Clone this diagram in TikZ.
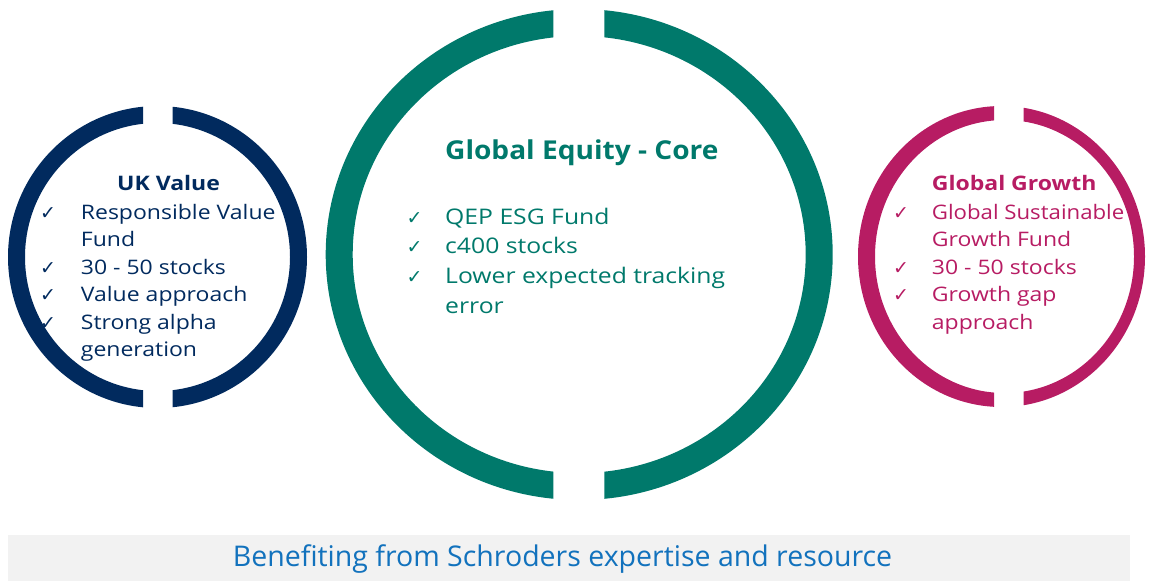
\documentclass[tikz,border=0pt]{standalone}
\usepackage{fontspec}
\setmainfont{Open Sans}
\newfontfamily\wideos[FakeStretch=1.15]{Open Sans}
\newfontfamily\midos[FakeStretch=1.08]{Open Sans}
\newfontfamily\narrowos[FakeStretch=1.11]{Open Sans}
\newfontfamily\symfont{DejaVu Sans}
\definecolor{navy}{HTML}{012A5E}
\definecolor{teal}{HTML}{00796B}
\definecolor{berry}{HTML}{B71C63}
\definecolor{linkblue}{HTML}{1272BD}
\definecolor{barfill}{HTML}{F2F2F2}

% ring with a vertical gap: centre x, centre y, x radius, y radius, thickness,
% gap left, gap right, colour, shift of the inner edge to the right
\newcommand\gapring[9]{%
  \foreach \cl/\cr in {-20/#6, #7/1200}{%
    \begin{scope}
      \clip (\cl,-20) rectangle (\cr,620);
      \fill[#8, even odd rule] (#1,#2) ellipse [x radius=#3*1pt, y radius=#4*1pt]
        (#1+#9,#2) ellipse [x radius=(#3-#5)*1pt, y radius=(#4-#5)*1pt];
    \end{scope}}}

\tikzset{
  txt/.style={anchor=base west, inner sep=0pt, font=\wideos\fontsize{20}{24}\selectfont},
  ttl/.style={anchor=base west, inner sep=0pt, font=\wideos\fontsize{20}{24}\selectfont\bfseries},
  tick/.style={anchor=base west, inner sep=0pt, font=\symfont\fontsize{19}{22}\selectfont},
  ctxt/.style={txt, font=\wideos\fontsize{21.5}{26}\selectfont},
  cttl/.style={ttl, font=\midos\fontsize{26}{30}\selectfont\bfseries},
}

\begin{document}
\begin{tikzpicture}[x=1pt,y=-1pt]
\useasboundingbox (0,0) rectangle (1154,581);

% rings
\gapring{157.5}{257}{149.5}{151}{17}{143}{172.5}{navy}{0}
\gapring{579.2}{254.5}{253.5}{245.5}{27}{553.3}{604.3}{teal}{0}
\gapring{1001.5}{256.5}{143.5}{150.5}{14}{994}{1023.5}{berry}{3}

% UK Value
\node[ttl, text=navy] (ukt) at (117,190.7) {UK Value};
\node[tick, text=navy] (ukc1) at (40,219.3) {✓};
\node[txt, text=navy] (uk1) at (80.7,219.3) {Responsible Value};
\node[txt, text=navy] (uk1b) at (80.7,246.7) {Fund};
\node[tick, text=navy] (ukc2) at (40,274.3) {✓};
\node[txt, text=navy] (uk2) at (80.7,274.3) {30 - 50 stocks};
\node[tick, text=navy] (ukc3) at (40,301.7) {✓};
\node[txt, text=navy] (uk3) at (80.7,301.7) {Value approach};
\node[tick, text=navy] (ukc4) at (40,329.3) {✓};
\node[txt, text=navy] (uk4) at (80.7,329.3) {Strong alpha};
\node[txt, text=navy] (uk4b) at (80.7,356.7) {generation};

% Global Equity - Core
\node[cttl, text=teal] (gct) at (445,159.3) {Global Equity - Core};
\node[tick, text=teal] (gcc1) at (406.5,224) {✓};
\node[ctxt, text=teal] (gc1) at (445,224) {QEP ESG Fund};
\node[tick, text=teal] (gcc2) at (406.5,253.3) {✓};
\node[ctxt, text=teal] (gc2) at (445,253.3) {c400 stocks};
\node[tick, text=teal] (gcc3) at (406.5,283.3) {✓};
\node[ctxt, text=teal] (gc3) at (445,283.3) {Lower expected tracking};
\node[ctxt, text=teal] (gc3b) at (445,313.3) {error};

% Global Growth
\node[ttl, text=berry] (ggt) at (931.7,190.7) {Global Growth};
\node[tick, text=berry] (ggc1) at (893,219) {✓};
\node[txt, text=berry, font=\narrowos\fontsize{20}{24}\selectfont] (gg1) at (931.7,219) {Global Sustainable};
\node[txt, text=berry] (gg1b) at (931.7,246.7) {Growth Fund};
\node[tick, text=berry] (ggc2) at (893,274) {✓};
\node[txt, text=berry] (gg2) at (931.7,274) {30 - 50 stocks};
\node[tick, text=berry] (ggc3) at (893,301.5) {✓};
\node[txt, text=berry] (gg3) at (931.7,301.5) {Growth gap};
\node[txt, text=berry] (gg3b) at (931.7,329) {approach};

% footer bar
\fill[barfill] (8,535) rectangle (1130,581);
\node[anchor=base, inner sep=0pt, text=linkblue, font=\fontsize{28.5}{32}\selectfont] (foot) at (562.5,566.7) {Benefiting from Schroders expertise and resource};
\end{tikzpicture}
\end{document}
